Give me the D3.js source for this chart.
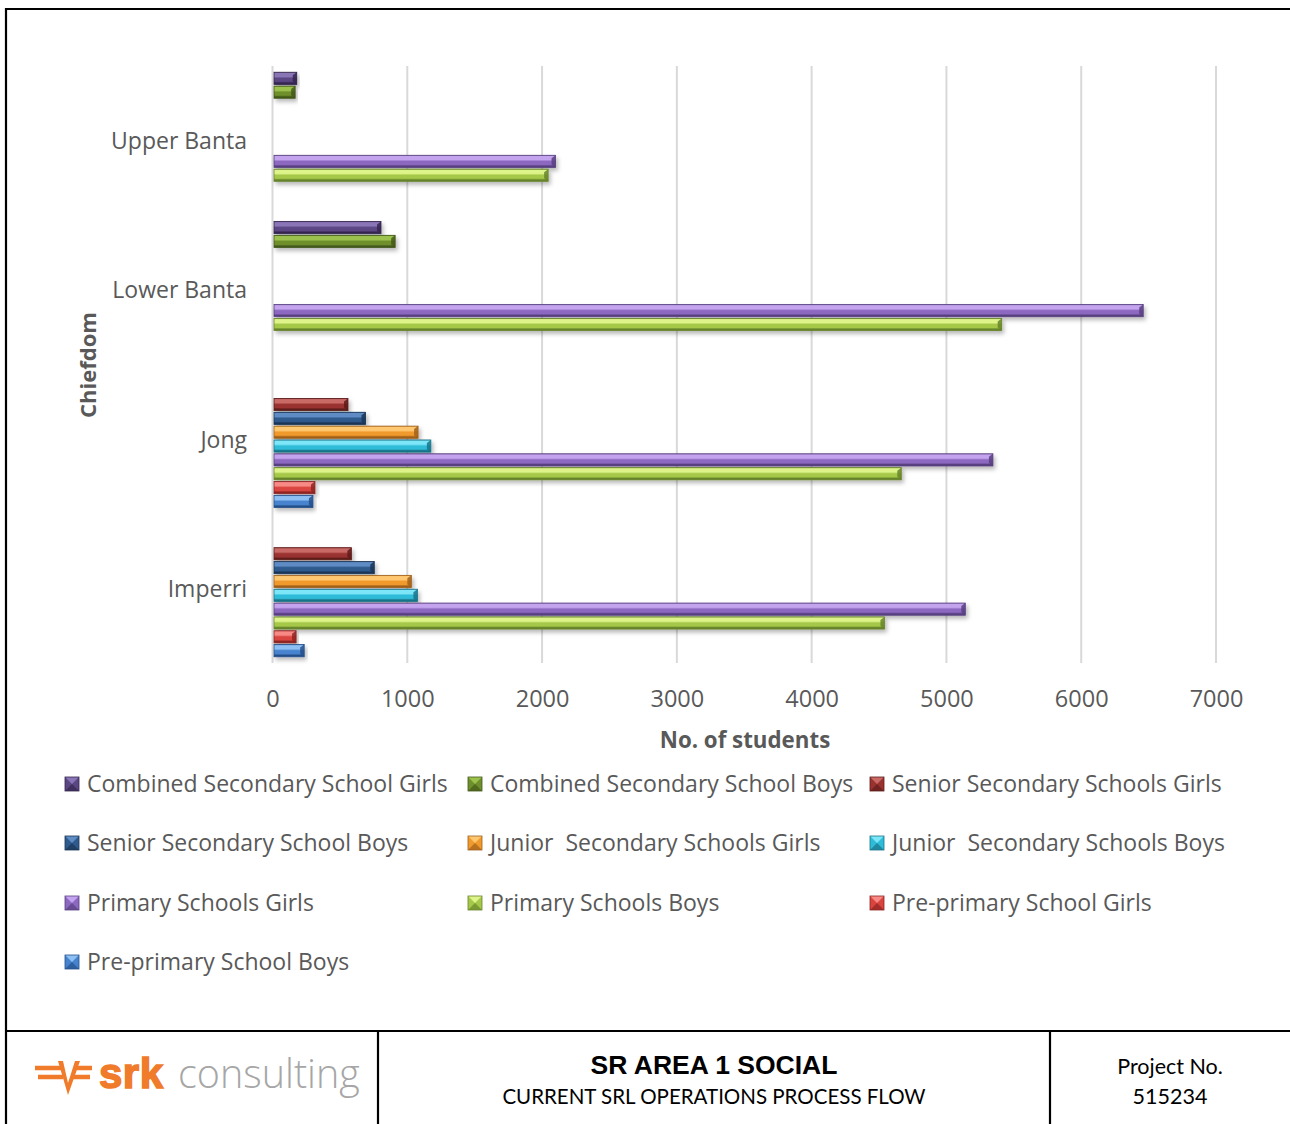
<!DOCTYPE html>
<html>
<head>
<meta charset="utf-8">
<script src="https://cdn.jsdelivr.net/npm/d3@7"></script>
<style>
  html, body { margin: 0; padding: 0; background: #fff; }
  svg { display: block; }
</style>
</head>
<body>
<svg id="chart" width="1290" height="1124"></svg>
<script>
// Chiefdoms, bottom to top as they appear on the axis
const categories = ["Imperri", "Jong", "Lower Banta", "Upper Banta"];

// Series in legend order; values follow the categories order above (null = no bar)
const seriesNames = [
  "Combined Secondary School Girls",
  "Combined Secondary School Boys",
  "Senior Secondary Schools Girls",
  "Senior Secondary School Boys",
  "Junior  Secondary Schools Girls",
  "Junior  Secondary Schools Boys",
  "Primary Schools Girls",
  "Primary Schools Boys",
  "Pre-primary School Girls",
  "Pre-primary School Boys"
];
const combinedGirls  = [null, null, 805, 180];
const combinedBoys   = [null, null, 910, 168];
const seniorGirls    = [585, 560, null, null];
const seniorBoys     = [755, 690, null, null];
const juniorGirls    = [1030, 1080, null, null];
const juniorBoys     = [1075, 1175, null, null];
const primaryGirls   = [5140, 5345, 6460, 2100];
const primaryBoys    = [4540, 4665, 5410, 2045];
const preGirls       = [175, 315, null, null];
const preBoys        = [235, 300, null, null];
const seriesValues = [combinedGirls, combinedBoys, seniorGirls, seniorBoys, juniorGirls,
                      juniorBoys, primaryGirls, primaryBoys, preGirls, preBoys];

const xTicks = [0, 1000, 2000, 3000, 4000, 5000, 6000, 7000];

// base / light / dark shades per series
const palette = [
  { base: "#5b4684", light: "#8a76b6", dark: "#35264f" },
  { base: "#6e8f2c", light: "#9cc24e", dark: "#43591a" },
  { base: "#9a3330", light: "#c96a66", dark: "#5e1c1a" },
  { base: "#2f5a8e", light: "#5e8cc4", dark: "#1a3556" },
  { base: "#f09a2e", light: "#ffc870", dark: "#a0601a" },
  { base: "#2fbcd8", light: "#7de6f8", dark: "#1a7489" },
  { base: "#8c68c0", light: "#c4a4ee", dark: "#584080" },
  { base: "#a6c84a", light: "#def48a", dark: "#66842a" },
  { base: "#d9443f", light: "#f88a86", dark: "#8e2522" },
  { base: "#4683ce", light: "#8ec0f4", dark: "#24508a" }
];

const FONT = "'Open Sans', Lato, sans-serif";
const FOOT = "Lato, 'Open Sans', sans-serif";
const TXT = "#595959";

const svg = d3.select("#chart");
const defs = svg.append("defs");

// drop shadow for the bars
const shadow = defs.append("filter").attr("id", "barShadow")
  .attr("x", "-5%").attr("y", "-40%").attr("width", "115%").attr("height", "220%");
shadow.append("feDropShadow").attr("dx", 2).attr("dy", 3)
  .attr("stdDeviation", 2).attr("flood-color", "#000").attr("flood-opacity", 0.28);

// vertical gradient per series for the rounded, bevelled look
palette.forEach((c, i) => {
  const g = defs.append("linearGradient").attr("id", "grad" + i)
    .attr("x1", 0).attr("y1", 0).attr("x2", 0).attr("y2", 1);
  [[0, c.dark], [0.1, c.light], [0.35, c.light], [0.5, c.base],
   [0.75, c.base], [0.88, c.dark], [1, c.dark]]
    .forEach(([o, col]) => g.append("stop").attr("offset", o).attr("stop-color", col));
});

// ---- frame ----
const frame = svg.append("g").attr("stroke", "#000").attr("stroke-width", 2.2).attr("fill", "none");
frame.append("path").attr("d", "M1300,9 H6 V1130");
frame.append("line").attr("x1", 6).attr("x2", 1300).attr("y1", 1031).attr("y2", 1031);
frame.append("line").attr("x1", 378).attr("x2", 378).attr("y1", 1031).attr("y2", 1130);
frame.append("line").attr("x1", 1050).attr("x2", 1050).attr("y1", 1031).attr("y2", 1130);

// ---- scales ----
const x = d3.scaleLinear().domain([0, 7000]).range([272.5, 1216]);
const y = d3.scaleBand().domain(categories.slice().reverse()).range([66, 663]);
const yInner = d3.scaleBand().domain(seriesNames)
  .range([0, y.bandwidth()]).paddingInner(0.12).paddingOuter(0.45);

// gridlines
svg.append("g").selectAll("line").data(xTicks).join("line")
  .attr("x1", d => x(d)).attr("x2", d => x(d))
  .attr("y1", 66).attr("y2", 663)
  .attr("stroke", "#d9d9d9").attr("stroke-width", 2);

// x axis labels
const xAxis = d3.axisBottom(x).tickValues(xTicks).tickSize(0).tickPadding(0).tickFormat(d3.format("d"));
const xg = svg.append("g").attr("transform", "translate(0,690)").call(xAxis);
xg.select(".domain").remove();
xg.selectAll("text").attr("font-family", FONT).attr("font-size", 23.5).attr("fill", TXT)
  .attr("dy", "0.71em");

// y axis labels
const yAxis = d3.axisLeft(y).tickSize(0).tickPadding(0);
const yg = svg.append("g").attr("transform", "translate(247,1)").call(yAxis);
yg.select(".domain").remove();
yg.selectAll("text").attr("font-family", FONT).attr("font-size", 23).attr("fill", TXT);

// axis titles
svg.append("text").attr("x", 745).attr("y", 748).attr("text-anchor", "middle")
  .attr("font-family", FONT).attr("font-weight", "bold").attr("font-size", 22.3).attr("fill", TXT)
  .text("No. of students");
svg.append("text").attr("transform", "translate(96,365) rotate(-90)").attr("text-anchor", "middle")
  .attr("font-family", FONT).attr("font-weight", "bold").attr("font-size", 22).attr("fill", TXT)
  .text("Chiefdom");

// ---- bars ----
const barData = [];
seriesNames.forEach((name, si) => {
  seriesValues[si].forEach((v, ci) => {
    if (v != null) barData.push({ name, si, cat: categories[ci], value: v });
  });
});

const bars = svg.append("g").selectAll("g.bar").data(barData).join("g")
  .attr("class", "bar")
  .attr("filter", "url(#barShadow)");

bars.each(function (d) {
  const g = d3.select(this);
  const c = palette[d.si];
  const x0 = x(0) + 1.5, x1 = x(d.value);
  const y0 = y(d.cat) + yInner(d.name), h = yInner.bandwidth();
  const b = Math.min(4, (x1 - x0) / 3);
  g.append("rect").attr("x", x0).attr("y", y0).attr("width", x1 - x0).attr("height", h)
    .attr("fill", `url(#grad${d.si})`);
  // top bevel facet
  g.append("path")
    .attr("d", `M${x0},${y0} L${x1},${y0} L${x1 - b},${y0 + 3} L${x0},${y0 + 3} Z`)
    .attr("fill", c.light).attr("opacity", 0.55);
  // right-end bevel facet
  g.append("path")
    .attr("d", `M${x1},${y0} L${x1},${y0 + h} L${x1 - b},${y0 + h - 3} L${x1 - b},${y0 + 3} Z`)
    .attr("fill", c.dark).attr("opacity", 0.85);
  g.append("rect").attr("x", x0).attr("y", y0).attr("width", x1 - x0).attr("height", h)
    .attr("fill", "none").attr("stroke", c.dark).attr("stroke-width", 0.8);
});

// ---- legend ----
const legendCols = [65, 468, 870];
const legendRows = [784, 843, 903, 962];
const legend = svg.append("g").selectAll("g").data(seriesNames).join("g")
  .attr("transform", (d, i) => `translate(${legendCols[i % 3]},${legendRows[Math.floor(i / 3)]})`);
legend.each(function (d, i) {
  const g = d3.select(this);
  const c = palette[i], s = 14;
  g.append("rect").attr("x", 0).attr("y", -s / 2).attr("width", s).attr("height", s).attr("fill", c.base);
  g.append("path").attr("d", `M0,${-s / 2} L${s},${-s / 2} L${s / 2},${0} Z`).attr("fill", c.light);
  g.append("path").attr("d", `M0,${s / 2} L${s},${s / 2} L${s / 2},${0} Z`).attr("fill", c.dark).attr("opacity", 0.7);
  g.append("rect").attr("x", 0).attr("y", -s / 2).attr("width", s).attr("height", s)
    .attr("fill", "none").attr("stroke", c.dark).attr("stroke-width", 0.8);
  g.append("text").attr("x", 22).attr("y", 0).attr("dy", "0.35em")
    .attr("font-family", FONT).attr("font-size", 23).attr("fill", TXT)
    .style("white-space", "pre").attr("xml:space", "preserve").text(d);
});

// ---- footer ----
const logo = svg.append("g");
const orange = "#f07b2a";
// emblem: horizontal strokes crossed by a V
logo.append("path")
  .attr("d", "M35,1068 H61 M38,1077 H63 M75,1068 H92 M73,1077 H90")
  .attr("stroke", orange).attr("stroke-width", 4.5).attr("fill", "none");
logo.append("path")
  .attr("d", "M58,1061 L68,1095 L80,1061 L75,1061 L68,1083 L63,1061 Z")
  .attr("fill", orange);
logo.append("text").attr("x", 99).attr("y", 1088)
  .attr("font-family", "'Liberation Sans', Arial, sans-serif").attr("font-weight", "bold")
  .attr("font-size", 42).attr("fill", orange).attr("stroke", orange).attr("stroke-width", 1.5)
  .attr("letter-spacing", 0.5).text("srk");
logo.append("text").attr("x", 178).attr("y", 1088)
  .attr("font-family", "'Open Sans', 'Noto Sans', sans-serif").attr("font-weight", 300)
  .attr("font-size", 39.5).attr("fill", "#a6a6a6").text("consulting");

svg.append("text").attr("x", 714).attr("y", 1074).attr("text-anchor", "middle")
  .attr("font-family", "'Liberation Sans', Arial, sans-serif").attr("font-weight", "bold")
  .attr("font-size", 26.5).attr("fill", "#000").text("SR AREA 1 SOCIAL");
svg.append("text").attr("x", 714).attr("y", 1104).attr("text-anchor", "middle")
  .attr("font-family", FOOT).attr("font-size", 20.5).attr("fill", "#000")
  .text("CURRENT SRL OPERATIONS PROCESS FLOW");
svg.append("text").attr("x", 1170).attr("y", 1074).attr("text-anchor", "middle")
  .attr("font-family", FOOT).attr("font-size", 21.5).attr("fill", "#000").text("Project No.");
svg.append("text").attr("x", 1170).attr("y", 1104).attr("text-anchor", "middle")
  .attr("font-family", FOOT).attr("font-size", 21.5).attr("fill", "#000").text("515234");
</script>
</body>
</html>
